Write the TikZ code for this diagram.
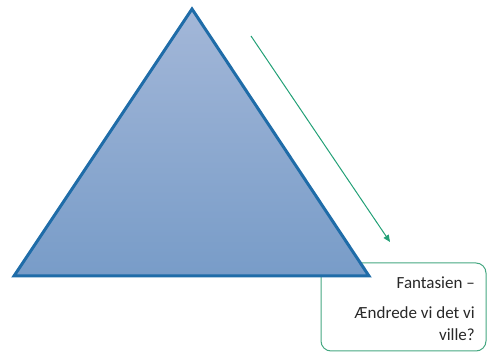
\documentclass[tikz,border=0pt]{standalone}
\usepackage{fontspec}
\setmainfont{Carlito}
\usetikzlibrary{arrows.meta}
\definecolor{triedge}{RGB}{31,108,168}
\definecolor{tritop}{RGB}{163,183,216}
\definecolor{tribot}{RGB}{120,156,200}
\definecolor{grn}{RGB}{34,160,118}
\definecolor{boxedge}{RGB}{70,168,130}
\definecolor{txtcol}{RGB}{40,40,40}
\tikzset{
  tri/.style={draw=triedge, line width=3pt, line join=miter, top color=tritop, bottom color=tribot},
  callout/.style={draw=boxedge, line width=1pt, rounded corners=10pt, fill=white},
  flow/.style={draw=grn, line width=1pt, -{Triangle[length=7pt,width=6pt]}},
  txt/.style={font=\fontsize{17}{20}\selectfont, text=txtcol, anchor=base east, inner sep=0pt}
}
\begin{document}
\begin{tikzpicture}[x=1pt,y=-1pt]
\useasboundingbox (0,0) rectangle (488,355);
\draw[callout] (321,263) rectangle (486,351);
\node[txt] (l1) at (475,289) {Fantasien –};
\node[txt] (l2) at (475,319) {Ændrede vi det vi};
\node[txt] (l3) at (475,341) {ville?};
\coordinate (A) at (192,9);
\coordinate (B) at (14,276);
\coordinate (C) at (369,276);
\draw[tri] (A) -- (B) -- (C) -- cycle;
\coordinate (s) at (251,36);
\coordinate (e) at (390,242);
\draw[flow] (s) -- (e);
\end{tikzpicture}
\end{document}
